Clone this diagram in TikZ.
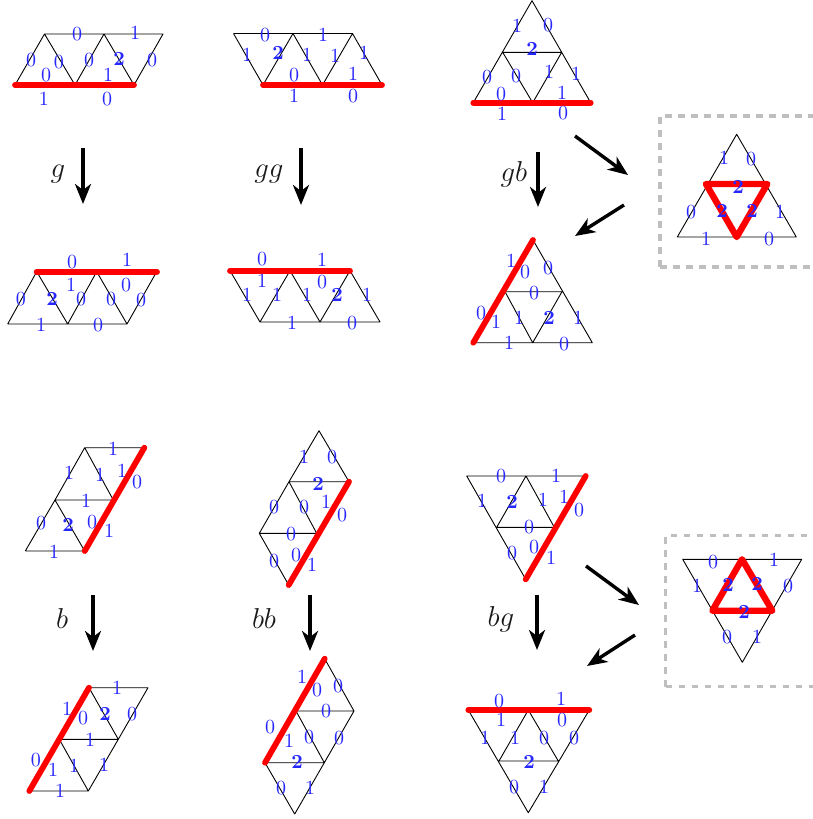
\documentclass[tikz,border=0pt]{standalone}
\usetikzlibrary{arrows.meta}
\newcommand{\tw}{\textbf{2}}
\newcommand{\lbls}[2]{\foreach \x/\y/\t [count=\i] in {#2} {\node[dig] (#1n\i) at (\x,\y) {\t};}}
\tikzset{
  mesh/.style={black,line width=0.45pt,line join=round},
  redl/.style={red,line width=2.9pt,line cap=round,line join=round},
  redt/.style={redl,line width=3.2pt},
  dig/.style={text=blue!85!white,inner sep=0pt,font=\fontsize{10}{12}\selectfont},
  arr/.style={black,line width=1.7pt,-{Stealth[length=10pt,width=8pt,inset=3pt]}},
  box/.style={black!25,line width=1.65pt,dash pattern=on 3.3pt off 3.2pt},
  op/.style={inner sep=0pt,text=black!90,font=\fontsize{14}{16}\selectfont}
}
\begin{document}
\begin{tikzpicture}[x=0.5pt,y=-0.5pt]
\useasboundingbox (0,0) rectangle (813,819);
% --- row 1
\draw[mesh] (15,85)--(44.5,34)--(163,34)--(134,85) (44.5,34)--(75,85)--(104,34)--(134,85);
\draw[redl] (15,85)--(134,85);
\lbls{a}{77/34/0,135/33/1,31/60/0,59/62/0,89/60/0,119/59/\tw,152/60/0,46/75/0,108/75/1,44/99/1,107/99/0}
\draw[mesh] (233.5,33.5)--(352.5,33.5)--(382,85) (233.5,33.5)--(263,85)--(293,33.5)--(322.5,85)--(352.5,33.5);
\draw[redl] (263,85)--(382,85);
\lbls{b}{265/35/0,323/35/1,247/55/1,278/53/\tw,307/55/1,335/56/1,364/53/1,294/75/0,353/74/1,294/96/1,353/96/0}
\draw[mesh] (473.3,102.7)--(532,0.7)--(590.7,102.7) (502.7,52.3)--(561.7,52.3)--(532.7,102.7)--cycle;
\draw[redl] (473.3,102.7)--(590.7,102.7);
\lbls{c}{517/26/1,548/25/0,532/49/\tw,487/77/0,516/76/0,549/72/1,576/74/1,501/94/0,562/93/1,502/114/1,563/113/0}
% --- row 2
\draw[mesh] (7.7,324)--(127,324)--(156.7,271.7) (7.7,324)--(36.7,271.7)--(67.7,324)--(96.7,271.7)--(127,324);
\draw[redl] (36.7,271.7)--(157,271.7);
\lbls{d}{72/262/0,127/260/1,21/299/0,52/299/\tw,71/285/1,81/299/0,111/299/0,126/285/0,141/300/0,41/325/1,98/325/0}
\draw[mesh] (230,270.7)--(260,322)--(380,322)--(350,270.7) (260,322)--(290,270.7)--(320,322)--(350,270.7);
\draw[redl] (230,270.7)--(350,270.7);
\lbls{e}{262/259/0,322/260/1,262/281/1,322/282/0,247/295/1,277/295/1,307/295/1,337/295/\tw,367/295/1,292/323/1,352/323/0}
\draw[mesh] (473.3,342.7)--(592.3,342.7)--(533,240)--(473.3,342.7) (505,291.7)--(562,291.7)--(532.7,342.7)--cycle;
\draw[redl] (473.3,342.7)--(533,240);
\lbls{f}{511/261/1,525/272/0,548/268/0,534/293/0,481/313/0,496/322/1,519/318/1,549/318/\tw,578/318/1,509/343/1,564/344/0}
% --- row 3
\draw[mesh] (25.3,551)--(84.7,551) (25.3,551)--(55,500)--(84.7,447.7)--(144.3,447.7) (84.7,447.7)--(113.3,500) (55,500)--(113.3,500) (55,500)--(84.7,551);
\draw[redl] (84.7,551)--(144.3,447.7);
\lbls{g}{113/449/1,69/473/1,100/475/1,122/471/1,137/482/0,86/501/1,41/523/0,68/525/\tw,92/522/0,109/531/1,54/552/1}
\draw[mesh] (349,481.7)--(319,430.7)--(289,481.7)--(259.3,533.3)--(288.7,585) (289,481.7)--(349,481.7) (259.3,533.3)--(316.7,533.3) (289,481.7)--(316.7,533.3);
\draw[redl] (288.7,585)--(349,481.7);
\lbls{h}{304/457/1,332/457/0,318/484/\tw,274/507/0,304/507/0,326/502/1,342/515/0,291/534/0,274/561/0,296/555/0,312/565/1}
\draw[mesh] (585.7,476)--(466.7,476)--(525.7,579.3) (526,476)--(496.7,527.3)--(554.3,527.3)--cycle;
\draw[redl] (525.7,579.3)--(585.7,476);
\lbls{i}{501/476/0,556/476/1,482/501/1,512/502/\tw,543/500/1,564/497/1,579/510/0,529/527/0,534/547/0,512/553/0,551/558/1}
% --- row 4
\draw[mesh] (89,687.7)--(148,687.7)--(118.3,739.3)--(88.3,791)--(29.3,791) (89,687.7)--(118.3,739.3) (59.3,739.3)--(118.3,739.3) (59.3,739.3)--(88.3,791);
\draw[redl] (29.3,791)--(89,687.7);
\lbls{j}{117/688/1,67/709/1,83/718/0,105/714/\tw,132/714/0,90/740/1,36/760/0,53/770/1,74/766/1,104/765/1,60/791/1}
\draw[mesh] (324.7,658.7)--(354,711)--(324.3,762.7)--(294.7,814)--(265,762.7)--(324.3,762.7) (296,711)--(354,711) (296,711)--(324.3,762.7);
\draw[redl] (265,762.7)--(324.7,658.7);
\lbls{k}{302/677/1,317/690/0,338/686/0,326/711/0,270/727/0,289/741/1,309/737/0,339/738/0,297/762/\tw,281/788/0,310/788/1}
\draw[mesh] (468.3,710)--(528.3,812.7)--(589.3,710) (499,761)--(558.3,761)--(528.3,710)--cycle;
\draw[redl] (468.3,710)--(589.3,710);
\lbls{l}{499/701/0,561/699/1,501/720/1,562/720/0,485/738/1,515/738/1,544/738/0,574/738/0,529/762/\tw,514/787/0,544/787/1}
% --- dashed boxes
\draw[box] (660,267)--(660,116)--(813,116) (660,267)--(813,267);
\draw[mesh] (677.3,237)--(796.3,237)--(736.7,134.3)--cycle;
\draw[redt] (706,184)--(767.3,184)--(736.7,237)--cycle;
\lbls{m}{724/158/1,751/159/0,738/187/\tw,691/212/0,722/211/\tw,752/211/\tw,780/212/1,706/239/1,769/239/0}
\draw[box] (665.7,686.7)--(665.7,535.7)--(813,535.7) (665.7,686.7)--(813,686.7);
\draw[mesh] (682.7,559.3)--(801.7,559.3)--(742.3,662.3)--cycle;
\draw[redt] (742,559.3)--(712.3,610.7)--(772.3,610.7)--cycle;
\lbls{n}{713/562/0,774/560/1,697/586/1,728/585/\tw,757/584/\tw,788/586/0,744/612/\tw,727/637/0,757/637/1}
% --- arrows
\foreach \nm/\ax/\ay/\bx/\by in {ga/83/148/83/204, gga/301/148/301/205, gba/538/152/538/207, ba/93/595/93/651, bba/310/595/310/651, bga/537/595/537/650, da/575/136/628/175, db/624/205/575/236, dc/586/566/639/605, dd/635/635/587/666} {
  \coordinate (\nm s) at (\ax,\ay);
  \coordinate (\nm t) at (\bx,\by);
  \draw[arr] (\nm s)--(\nm t);
}
\node[op] (lg) at (58,174) {$g$};
\node[op] (lgg) at (269,174) {$gg$};
\node[op] (lgb) at (514,174) {$gb$};
\node[op] (lb) at (62,618) {$b$};
\node[op] (lbb) at (264,618) {$bb$};
\node[op] (lbg) at (501,619) {$bg$};
\end{tikzpicture}
\end{document}
